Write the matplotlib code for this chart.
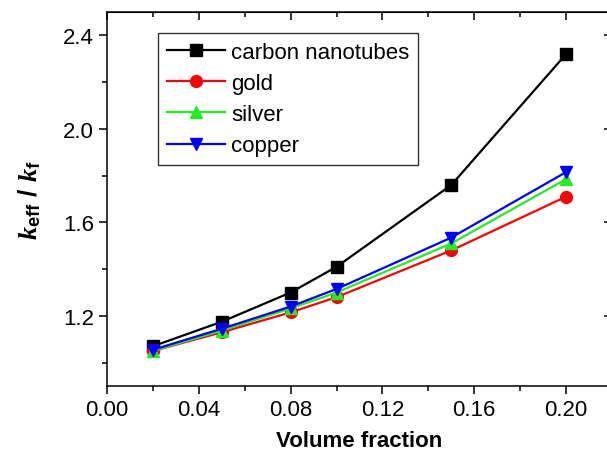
import numpy as np
import matplotlib.pyplot as plt
from matplotlib.ticker import MultipleLocator

# Data
volume_fraction = [0.02, 0.05, 0.08, 0.10, 0.15, 0.20]
carbon_nanotubes = [1.07, 1.175, 1.30, 1.41, 1.76, 2.32]
gold = [1.05, 1.13, 1.215, 1.28, 1.48, 1.71]
silver = [1.05, 1.137, 1.232, 1.30, 1.51, 1.785]
copper = [1.055, 1.145, 1.24, 1.315, 1.535, 1.815]

plt.rcParams['font.family'] = ['Liberation Sans', 'DejaVu Sans']
plt.rcParams['mathtext.fontset'] = 'custom'
plt.rcParams['mathtext.it'] = 'Liberation Serif:italic:bold'
plt.rcParams['mathtext.rm'] = 'Liberation Sans:bold'

fig = plt.figure(figsize=(6.07, 4.56), dpi=100)
ax = fig.add_axes([107 / 607, 69 / 456, 505 / 607, 374 / 456])

ax.plot(volume_fraction, carbon_nanotubes, color='black', marker='s',
        markersize=8.5, linewidth=1.6, label='carbon nanotubes')
ax.plot(volume_fraction, gold, color='#ff0000', marker='o',
        markersize=8.5, linewidth=1.6, label='gold')
ax.plot(volume_fraction, silver, color='#22ee22', marker='^',
        markersize=8.5, linewidth=1.6, label='silver')
ax.plot(volume_fraction, copper, color='#0000ff', marker='v',
        markersize=8.5, linewidth=1.6, label='copper')

ax.set_xlim(0, 0.22)
ax.set_ylim(0.9, 2.5)
ax.xaxis.set_major_locator(MultipleLocator(0.04))
ax.xaxis.set_minor_locator(MultipleLocator(0.02))
ax.yaxis.set_major_locator(MultipleLocator(0.4))
ax.yaxis.set_minor_locator(MultipleLocator(0.2))
ax.xaxis.set_major_formatter(plt.FormatStrFormatter('%.2f'))
ax.yaxis.set_major_formatter(plt.FormatStrFormatter('%.1f'))

ax.tick_params(which='both', direction='out', top=False, right=False,
               labelsize=16, width=1.1)
ax.tick_params(which='major', length=6)
ax.tick_params(which='minor', length=3.5)
# inward ticks on top and right, like the original
ax2 = ax.secondary_xaxis('top')
ax2.xaxis.set_major_locator(MultipleLocator(0.04))
ax2.xaxis.set_minor_locator(MultipleLocator(0.02))
ax2.tick_params(which='both', direction='in', labeltop=False, width=1.1)
ax2.tick_params(which='major', length=6)
ax2.tick_params(which='minor', length=3.5)
ay2 = ax.secondary_yaxis('right')
ay2.yaxis.set_major_locator(MultipleLocator(0.4))
ay2.yaxis.set_minor_locator(MultipleLocator(0.2))
ay2.tick_params(which='both', direction='in', labelright=False, width=1.1)
ay2.tick_params(which='major', length=6)
ay2.tick_params(which='minor', length=3.5)

for s in ax.spines.values():
    s.set_linewidth(1.1)

ax.set_xlabel('Volume fraction', fontsize=16, fontweight='bold', labelpad=7)
ax.set_ylabel(r'$k_{\rm eff}$ / $k_{\rm f}$', fontsize=19, fontweight='bold',
              labelpad=14)

leg = ax.legend(loc='upper left', bbox_to_anchor=(0.101, 0.944),
                borderaxespad=0, fontsize=16, fancybox=False,
                edgecolor='#333333', framealpha=1, handlelength=2.6,
                handletextpad=0.3, labelspacing=0.46, borderpad=0.4)
leg.get_frame().set_linewidth(1.0)

fig.savefig('out.png', dpi=100)
